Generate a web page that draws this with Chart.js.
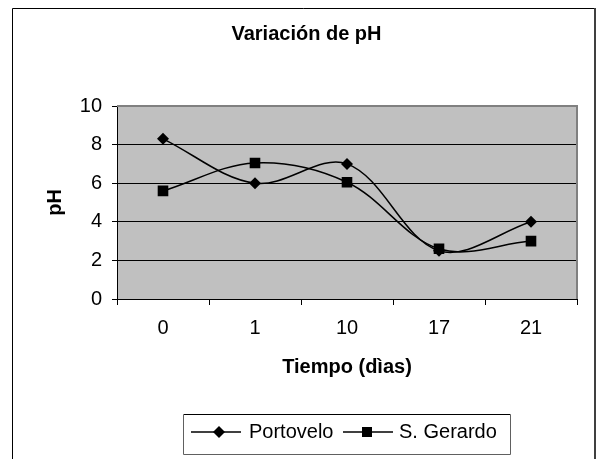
<!DOCTYPE html>
<html>
<head>
<meta charset="utf-8">
<script src="https://cdn.jsdelivr.net/npm/chart.js@4/dist/chart.umd.min.js"></script>
<style>
html,body{margin:0;padding:0;background:#fff;}
canvas{display:block;}
</style>
</head>
<body>
<canvas id="c" width="597" height="459"></canvas>
<script>
const categories = ['0', '1', '10', '17', '21'];
const portovelo = [8.3, 6.0, 7.0, 2.5, 4.0];
const sGerardo = [5.6, 7.05, 6.05, 2.6, 3.0];
const seriesNames = ['Portovelo', 'S. Gerardo'];
const yTicks = [0, 2, 4, 6, 8, 10];
const chartTitle = 'Variación de pH';
const xTitle = 'Tiempo (dìas)';
const yTitle = 'pH';

const FONT = '"Liberation Sans", Arial, sans-serif';

const framePlugin = {
  id: 'frame',
  beforeDraw(chart) {
    const ctx = chart.ctx;
    const a = chart.chartArea;
    ctx.save();
    ctx.fillStyle = '#fff';
    ctx.fillRect(0, 0, chart.width, chart.height);
    ctx.strokeStyle = '#000';
    ctx.lineWidth = 1;
    ctx.beginPath();
    ctx.moveTo(12.5, chart.height + 2);
    ctx.lineTo(12.5, 8.5);
    ctx.lineTo(594, 8.5);
    ctx.stroke();
    ctx.strokeStyle = '#404040';
    ctx.lineWidth = 2;
    ctx.beginPath();
    ctx.moveTo(595, 8);
    ctx.lineTo(595, chart.height + 2);
    ctx.stroke();
    ctx.fillStyle = '#C0C0C0';
    ctx.fillRect(a.left, a.top, a.right - a.left, a.bottom - a.top);
    ctx.restore();
  },
  afterDraw(chart) {
    const ctx = chart.ctx;
    const a = chart.chartArea;
    ctx.save();
    ctx.strokeStyle = '#808080';
    ctx.lineWidth = 2;
    ctx.beginPath();
    ctx.moveTo(a.left, a.top);
    ctx.lineTo(a.right, a.top);
    ctx.lineTo(a.right, a.bottom);
    ctx.stroke();
    // legend
    const bx = 183, by = 414, bw = 327, bh = 40;
    ctx.strokeStyle = '#000';
    ctx.lineWidth = 1;
    ctx.beginPath();
    ctx.moveTo(bx + 0.5, by + 0.5);
    ctx.lineTo(bx + bw + 0.5, by + 0.5);
    ctx.stroke();
    ctx.strokeStyle = '#606060';
    ctx.beginPath();
    ctx.moveTo(bx + 0.5, by + 1);
    ctx.lineTo(bx + 0.5, by + bh + 0.5);
    ctx.lineTo(bx + bw + 0.5, by + bh + 0.5);
    ctx.lineTo(bx + bw + 0.5, by + 1);
    ctx.stroke();
    const cy = 432;
    const items = [
      {x0: 191, x1: 241, mx: 219, tx: 249, style: 'rectRot'},
      {x0: 343, x1: 393, mx: 367, tx: 399, style: 'rect'}
    ];
    ctx.font = '20px ' + FONT;
    ctx.textBaseline = 'middle';
    ctx.textAlign = 'left';
    items.forEach((it, i) => {
      ctx.strokeStyle = '#000';
      ctx.lineWidth = 1.5;
      ctx.beginPath();
      ctx.moveTo(it.x0, cy);
      ctx.lineTo(it.x1, cy);
      ctx.stroke();
      ctx.fillStyle = '#000';
      ctx.beginPath();
      if (it.style === 'rectRot') {
        const r = 6;
        ctx.moveTo(it.mx - r, cy);
        ctx.lineTo(it.mx, cy - r);
        ctx.lineTo(it.mx + r, cy);
        ctx.lineTo(it.mx, cy + r);
        ctx.closePath();
      } else {
        ctx.rect(it.mx - 5, cy - 5, 10, 10);
      }
      ctx.fill();
      ctx.fillText(chart.data.datasets[i].label, it.tx, cy);
    });
    ctx.restore();
  }
};

const leftPad = 36;
const yScaleWidth = 117 - leftPad;
const xScaleHeight = 80;

new Chart(document.getElementById('c'), {
  type: 'line',
  data: {
    labels: categories,
    datasets: [
      {
        label: seriesNames[0],
        data: portovelo,
        borderColor: '#000',
        backgroundColor: '#000',
        borderWidth: 1.5,
        pointStyle: 'rectRot',
        pointRadius: 6,
        pointBackgroundColor: '#000',
        pointBorderColor: '#000',
        pointBorderWidth: 0,
        tension: 0.35,
        fill: false
      },
      {
        label: seriesNames[1],
        data: sGerardo,
        borderColor: '#000',
        backgroundColor: '#000',
        borderWidth: 1.5,
        pointStyle: 'rect',
        pointRadius: 7.5,
        pointBackgroundColor: '#000',
        pointBorderColor: '#000',
        pointBorderWidth: 0,
        tension: 0.35,
        fill: false
      }
    ]
  },
  options: {
    responsive: false,
    animation: false,
    devicePixelRatio: 1,
    layout: { padding: { left: leftPad, right: 20, top: 0, bottom: 459 - 299 - xScaleHeight } },
    plugins: {
      legend: { display: false },
      tooltip: { enabled: false },
      title: {
        display: true,
        text: chartTitle,
        color: '#000',
        font: { family: FONT, size: 20, weight: 'bold' },
        padding: { top: 22, bottom: 60 }
      }
    },
    scales: {
      x: {
        type: 'category',
        offset: true,
        afterFit(s) { s.height = xScaleHeight; },
        grid: {
          offset: true,
          drawOnChartArea: false,
          drawTicks: true,
          tickLength: 6,
          tickColor: '#000',
          color: '#000'
        },
        border: { display: true, color: '#000', width: 1 },
        ticks: {
          color: '#000',
          font: { family: FONT, size: 20 },
          padding: 11,
          maxRotation: 0,
          autoSkip: false
        },
        title: {
          display: true,
          text: xTitle,
          color: '#000',
          font: { family: FONT, size: 20, weight: 'bold' },
          padding: { top: 0, bottom: 0 }
        }
      },
      y: {
        min: 0,
        max: 10,
        afterFit(s) { s.width = yScaleWidth; },
        afterBuildTicks(s) { s.ticks = yTicks.map(v => ({ value: v })); },
        grid: {
          color: (c) => (c.tick && c.tick.value === 10 ? '#808080' : '#000'),
          lineWidth: 1,
          tickLength: 5,
          tickColor: '#000'
        },
        border: { display: true, color: '#000', width: 1 },
        ticks: {
          color: '#000',
          font: { family: FONT, size: 20 },
          padding: 10,
          stepSize: 2
        },
        title: {
          display: true,
          text: yTitle,
          color: '#000',
          font: { family: FONT, size: 20, weight: 'bold' },
          padding: { top: 7.5, bottom: 0 }
        }
      }
    }
  },
  plugins: [framePlugin]
});
</script>
</body>
</html>
